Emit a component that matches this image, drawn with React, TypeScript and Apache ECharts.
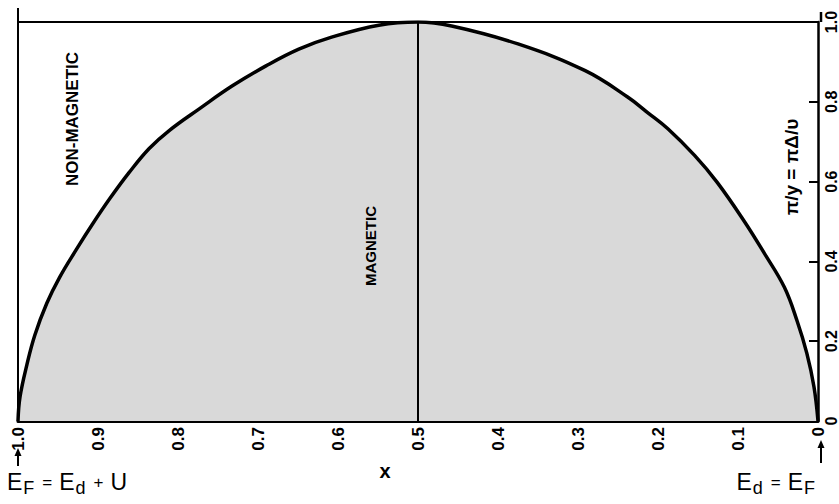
import React, { useEffect, useRef } from "react";
import * as echarts from "echarts";

// Boundary curve between magnetic and non-magnetic regions
const boundaryX: number[] = [0, 0.005, 0.014, 0.026, 0.042, 0.067, 0.092, 0.126, 0.154, 0.188, 0.213, 0.238, 0.291, 0.375, 0.458, 0.5, 0.549, 0.608, 0.649, 0.69, 0.732, 0.773, 0.811, 0.836, 0.861, 0.885, 0.907, 0.927, 0.948, 0.964, 0.979, 0.989, 0.9975, 1.0];
const boundaryY: number[] = [0, 0.085, 0.17, 0.25, 0.335, 0.42, 0.5, 0.598, 0.665, 0.733, 0.773, 0.812, 0.878, 0.945, 0.99, 1.0, 0.992, 0.962, 0.932, 0.89, 0.84, 0.783, 0.728, 0.683, 0.623, 0.558, 0.493, 0.43, 0.36, 0.295, 0.215, 0.14, 0.06, 0];
const xTicks: number[] = [0, 0.1, 0.2, 0.3, 0.4, 0.5, 0.6, 0.7, 0.8, 0.9, 1.0];
const yTicks: number[] = [0, 0.2, 0.4, 0.6, 0.8, 1.0];
const dividerX: number[] = [0.5];

const fmt = (v: number) => (v === 0 ? "0" : v.toFixed(1));

export default function App() {
  const ref = useRef<HTMLDivElement>(null);
  useEffect(() => {
    document.body.style.margin = "0";
    if (!ref.current) return;
    const chart = echarts.init(ref.current, undefined, { renderer: "svg" });
    const font = "Liberation Sans";
    const data = boundaryX.map((x, i) => [x, boundaryY[i]]);
    const rich = {
      e: { fontSize: 23, fontFamily: font, fill: "#000", verticalAlign: "middle" },
      s: { fontSize: 18, fontFamily: font, fill: "#000", padding: [12, 1, 0, 1], verticalAlign: "middle" },
      o: { fontSize: 17, fontFamily: font, fill: "#000", padding: [0, 7, 0, 7], verticalAlign: "middle" },
    };
    chart.setOption({
      animation: false,
      backgroundColor: "#fff",
      textStyle: { fontFamily: font, color: "#000" },
      grid: { left: 18, right: 18, top: 22, bottom: 83, containLabel: false },
      xAxis: [
        {
          type: "value",
          min: xTicks[0],
          max: xTicks[xTicks.length - 1],
          interval: 0.1,
          inverse: true,
          position: "bottom",
          axisLine: { show: true, onZero: false, lineStyle: { color: "#000", width: 3 } },
          axisTick: { show: true, inside: true, length: 9, lineStyle: { color: "#000", width: 2 } },
          axisLabel: { rotate: 90, formatter: fmt, fontSize: 17, fontWeight: "bold", color: "#000", margin: 6, fontFamily: font },
          splitLine: { show: false },
        },
        {
          type: "value",
          min: 0,
          max: 1,
          inverse: true,
          position: "top",
          axisLine: { show: true, onZero: false, lineStyle: { color: "#000", width: 2 } },
          axisTick: { show: false },
          axisLabel: { show: false },
          splitLine: { show: false },
        },
      ],
      yAxis: [
        {
          type: "value",
          min: yTicks[0],
          max: yTicks[yTicks.length - 1],
          interval: 0.2,
          position: "right",
          axisLine: { show: true, onZero: false, lineStyle: { color: "#000", width: 2.5 } },
          axisTick: { show: true, inside: true, length: 9, lineStyle: { color: "#000", width: 2 } },
          axisLabel: { rotate: 90, formatter: fmt, fontSize: 16, fontWeight: "bold", color: "#000", margin: 5, fontFamily: font },
          splitLine: { show: false },
        },
        {
          type: "value",
          min: 0,
          max: 1,
          position: "left",
          axisLine: { show: true, onZero: false, lineStyle: { color: "#000", width: 2 } },
          axisTick: { show: false },
          axisLabel: { show: false },
          splitLine: { show: false },
        },
      ],
      series: [
        {
          type: "line",
          xAxisIndex: 0,
          yAxisIndex: 0,
          data,
          smooth: 0.4,
          symbol: "none",
          lineStyle: { color: "#000", width: 3.5 },
          areaStyle: { color: "#d9d9d9", opacity: 1 },
          markLine: {
            silent: true,
            symbol: ["none", "none"],
            label: { show: false },
            lineStyle: { color: "#000", width: 2, type: "solid" },
            data: dividerX.map((v) => ({ xAxis: v })),
          },
          z: 2,
        },
      ],
      graphic: [
        { type: "line", z: 100, shape: { x1: 18, y1: 8, x2: 18, y2: 22 }, style: { stroke: "#000", lineWidth: 2 } },
        { type: "line", z: 100, shape: { x1: 821, y1: 12, x2: 821, y2: 22 }, style: { stroke: "#000", lineWidth: 2.5 } },
        {
          type: "text", z: 100, x: 72, y: 119, rotation: Math.PI / 2,
          style: { text: "NON-MAGNETIC", fontSize: 17, fontWeight: "bold", fontFamily: font, fill: "#000", align: "center", verticalAlign: "middle" },
        },
        {
          type: "text", z: 100, x: 370, y: 246, rotation: Math.PI / 2,
          style: { text: "MAGNETIC", fontSize: 15, fontWeight: "bold", fontFamily: font, fill: "#000", align: "center", verticalAlign: "middle" },
        },
        {
          type: "text", z: 100, x: 791, y: 167, rotation: Math.PI / 2,
          style: { text: "π/y = πΔ/υ", fontSize: 19, fontWeight: "bold", fontFamily: font, fill: "#000", align: "center", verticalAlign: "middle" },
        },
        {
          type: "text", z: 100, x: 385, y: 471,
          style: { text: "x", fontSize: 20, fontWeight: "bold", fontFamily: font, fill: "#000", align: "center", verticalAlign: "middle" },
        },
        {
          type: "text", z: 100, x: 7, y: 482,
          style: {
            text: "{e|E}{s|F}{o|=}{e|E}{s|d}{o|+}{e|U}",
            fontFamily: font, fill: "#000", align: "left", verticalAlign: "middle",
            rich,
          },
        },
        {
          type: "text", z: 100, x: 816, y: 482,
          style: {
            text: "{e|E}{s|d}{o|=}{e|E}{s|F}",
            fontFamily: font, fill: "#000", align: "right", verticalAlign: "middle",
            rich,
          },
        },
        { type: "line", z: 100, shape: { x1: 18, y1: 452, x2: 18, y2: 466 }, style: { stroke: "#000", lineWidth: 2 } },
        { type: "polygon", z: 100, shape: { points: [[18, 448], [14.5, 456], [21.5, 456]] }, style: { fill: "#000" } },
        { type: "line", z: 100, shape: { x1: 821, y1: 444, x2: 821, y2: 463 }, style: { stroke: "#000", lineWidth: 2 } },
        { type: "polygon", z: 100, shape: { points: [[821, 440], [817.5, 448], [824.5, 448]] }, style: { fill: "#000" } },
      ],
    });
    return () => chart.dispose();
  }, []);
  return <div ref={ref} style={{ width: 839, height: 504 }} />;
}
